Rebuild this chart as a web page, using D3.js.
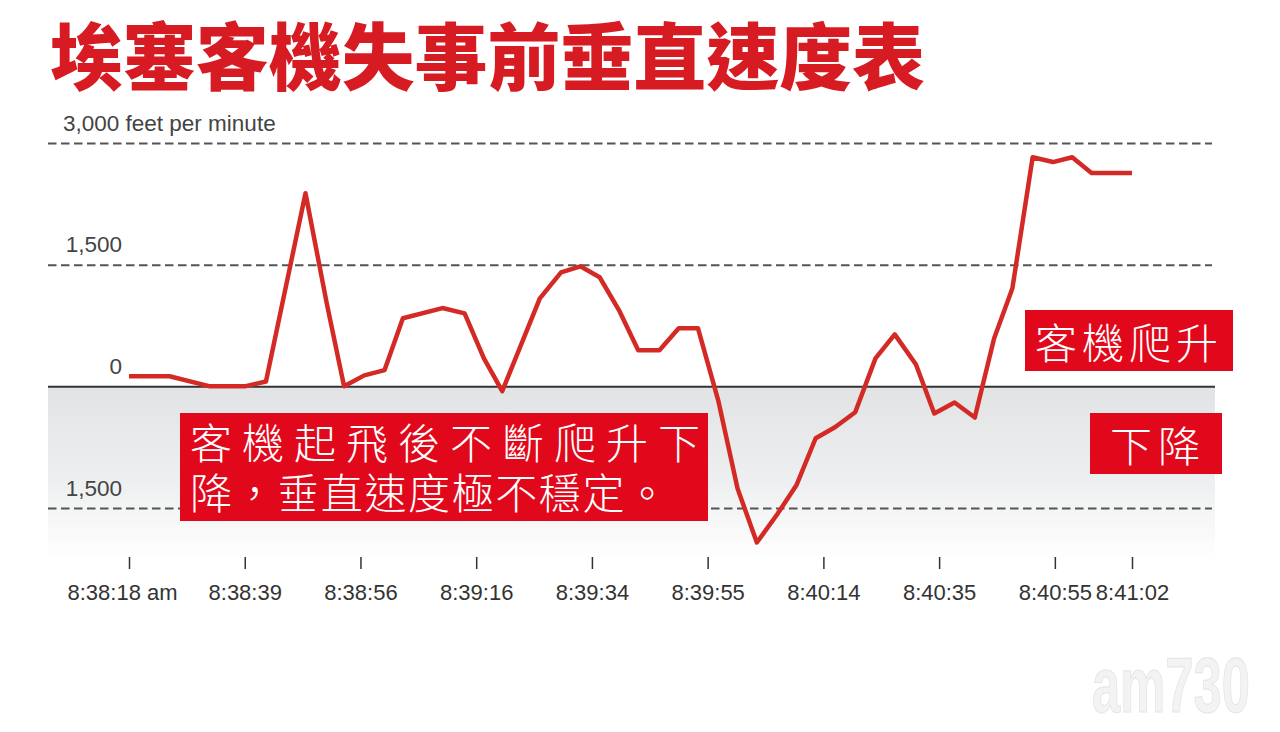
<!DOCTYPE html>
<html>
<head>
<meta charset="utf-8">
<script src="https://cdn.jsdelivr.net/npm/d3@7"></script>
<style>
  body { margin: 0; background: #fff; }
  svg { display: block; }
</style>
</head>
<body>
<div id="svg-container"></div>
<script>
// readings taken off the chart (vertical speed in feet per minute)
const tickLabels = ["8:38:18 am", "8:38:39", "8:38:56", "8:39:16", "8:39:34",
  "8:39:55", "8:40:14", "8:40:35", "8:40:55", "8:41:02"];
const tickSamples = [0, 6, 12, 18, 24, 30, 36, 42, 48, 52];
const yTicks = [3000, 1500, 0, -1500];

// position of each reading, counted in sample steps from 8:38:18
const samplePos = [0, 2.1, 4.2, 6.0, 7.1, 9.15, 10.25, 11.15, 12.2, 13.25,
  14.2, 16.25, 17.4, 18.4, 19.35, 21.3, 22.4, 23.4, 24.4, 25.4,
  26.4, 27.5, 28.5, 29.5, 30.55, 31.55, 32.55, 33.6, 34.6, 35.6,
  36.6, 37.65, 38.7, 39.7, 40.8, 41.75, 42.8, 43.85, 44.85, 45.8,
  46.85, 47.9, 48.9, 49.9, 52];
const vSpeed = [125, 125, 0, 0, 60, 2380, 1025, 0, 135, 200,
  840, 965, 900, 345, -60, 1085, 1405, 1480, 1345, 940,
  445, 445, 715, 715, -175, -1260, -1925, -1580, -1220, -640,
  -505, -320, 345, 640, 270, -335, -200, -385, 590, 1210,
  2825, 2765, 2825, 2630, 2630];

const titleText = "埃塞客機失事前垂直速度表";
const notes = [
  { lines: ["客機起飛後不斷爬升下", "降，垂直速度極不穩定。"] },
  { lines: ["客機爬升"] },
  { lines: ["下降"] }
];

const W = 1280, H = 732;
const gridLeft = 48, gridRight = 1212;

const svg = d3.select("#svg-container")
  .append("svg")
  .attr("width", W)
  .attr("height", H);

svg.append("rect").attr("width", W).attr("height", H).attr("fill", "#fff");

const x = d3.scaleLinear().domain([0, 52]).range([129, 1132]);
const y = d3.scaleLinear().domain([-1500, 3000]).range([508, 143]);

/** gradient for the "below zero" band */
const defs = svg.append("defs");
defs.append("linearGradient")
  .attr("id", "band")
  .attr("x1", "0%").attr("y1", "0%")
  .attr("x2", "0%").attr("y2", "100%")
  .each(function() {
    d3.select(this).append("stop").attr("offset", "0%").attr("stop-color", "#e2e3e5");
    d3.select(this).append("stop").attr("offset", "55%").attr("stop-color", "#eeeff0");
    d3.select(this).append("stop").attr("offset", "100%").attr("stop-color", "#ffffff");
  });

svg.append("rect")
  .attr("x", gridLeft)
  .attr("y", y(0))
  .attr("width", 1215 - gridLeft)
  .attr("height", 560 - y(0))
  .attr("fill", "url(#band)");

// title
svg.append("text")
  .attr("x", 50)
  .attr("y", 84)
  .attr("fill", "#d71b22")
  .style("font-family", "'Noto Sans CJK TC', 'Noto Sans CJK SC', sans-serif")
  .style("font-weight", "900")
  .style("font-size", "73px")
  .attr("textLength", 875)
  .attr("lengthAdjust", "spacingAndGlyphs")
  .text(titleText);

// y axis: gridlines + labels sitting above them
const yAxis = d3.axisRight(y)
  .tickValues(yTicks)
  .tickSize(gridRight - gridLeft)
  .tickFormat(d => d3.format(",")(Math.abs(d)));

const yG = svg.append("g")
  .attr("transform", "translate(" + gridLeft + ",0)")
  .call(yAxis);
yG.select(".domain").remove();
yG.selectAll(".tick line")
  .attr("stroke", "#555")
  .attr("stroke-width", 2)
  .attr("stroke-dasharray", "8.5,4.5");
yG.selectAll(".tick")
  .filter(d => d === 0)
  .select("line")
  .attr("x2", 1215 - gridLeft)
  .attr("stroke", "#333")
  .attr("stroke-dasharray", null);
yG.selectAll(".tick text")
  .attr("x", 122 - gridLeft)
  .attr("y", -13)
  .attr("dy", 0)
  .attr("fill", "#444")
  .style("text-anchor", "end")
  .style("font-family", "'Liberation Sans', Arial, sans-serif")
  .style("font-size", "22.5px");
yG.selectAll(".tick")
  .filter(d => d === 3000)
  .select("text")
  .attr("x", 63 - gridLeft)
  .style("text-anchor", "start")
  .text(d => d3.format(",")(d) + " feet per minute");

// x axis
const xAxis = d3.axisBottom(x)
  .tickValues(tickSamples)
  .tickSize(12)
  .tickPadding(15)
  .tickFormat((d, i) => tickLabels[i]);

const xG = svg.append("g")
  .attr("transform", "translate(0,557)")
  .call(xAxis);
xG.select(".domain").remove();
xG.selectAll(".tick line").attr("stroke", "#333").attr("stroke-width", 1.5);
xG.selectAll(".tick text")
  .attr("fill", "#333")
  .style("font-family", "'Liberation Sans', Arial, sans-serif")
  .style("font-size", "22px");
xG.selectAll(".tick").filter(d => d === 0).select("text").attr("dx", -7);

// the vertical speed line
const pts = samplePos.map((p, i) => [p, vSpeed[i]]);
svg.append("path")
  .datum(pts)
  .attr("fill", "none")
  .attr("stroke", "#d42a26")
  .attr("stroke-width", 4.5)
  .attr("stroke-linejoin", "round")
  .attr("stroke-linecap", "butt")
  .attr("d", d3.line().x(d => x(d[0])).y(d => y(d[1])));

/** red annotation boxes */
const boxes = [
  { x: 180, y: 413, w: 528, h: 108, tx: 190, base: [459, 509], len: [510, 478] },
  { x: 1025, y: 310, w: 208, h: 61, tx: 1035, base: [359], len: [183] },
  { x: 1090, y: 413, w: 132, h: 61, tx: 1110, base: [462], len: [90] }
];

boxes.forEach((b, k) => {
  const g = svg.append("g");
  g.append("rect")
    .attr("x", b.x).attr("y", b.y)
    .attr("width", b.w).attr("height", b.h)
    .attr("fill", "#e2081b");
  notes[k].lines.forEach((line, j) => {
    g.append("text")
      .attr("x", b.tx)
      .attr("y", b.base[j])
      .attr("fill", "#fff")
      .style("font-family", "'Noto Sans CJK TC', 'Noto Sans CJK SC', sans-serif")
      .style("font-weight", "300")
      .style("font-size", "42px")
      .attr("textLength", b.len[j])
      .attr("lengthAdjust", "spacing")
      .text(line);
  });
});

// faint watermark
svg.append("text")
  .attr("x", 1092)
  .attr("y", 712)
  .attr("fill", "#f3f3f3")
  .attr("stroke", "#e4e4e4")
  .attr("stroke-width", 1)
  .style("font-family", "'Liberation Sans', Arial, sans-serif")
  .style("font-weight", "bold")
  .style("font-size", "78px")
  .attr("textLength", 158)
  .attr("lengthAdjust", "spacingAndGlyphs")
  .text("am730");
</script>
</body>
</html>
